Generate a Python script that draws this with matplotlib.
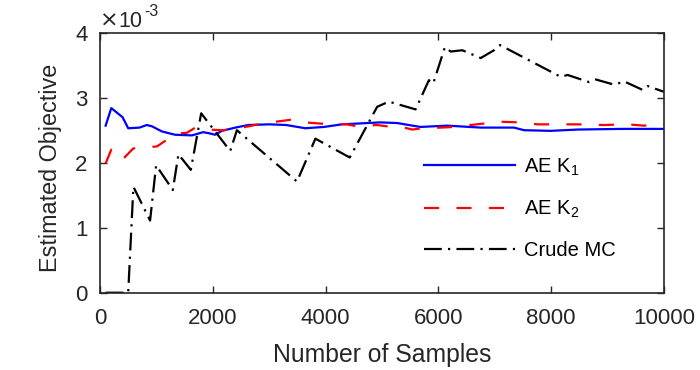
import matplotlib
matplotlib.use("Agg")
import matplotlib.pyplot as plt
import numpy as np

plt.rcParams['font.family'] = ['Liberation Sans', 'DejaVu Sans']
plt.rcParams['mathtext.fontset'] = 'custom'
plt.rcParams['mathtext.rm'] = 'Liberation Sans'
plt.rcParams['mathtext.it'] = 'Liberation Sans:italic'

# Data (values in units of 1e-3)
ae1_n = [100, 200, 400, 500, 700, 830, 920, 1100, 1330, 1630, 1830, 1950, 2040, 2160,
         2400, 2630, 3000, 3300, 3640, 3970, 4290, 4970, 5270, 5680, 6160, 6750, 7340,
         7520, 7990, 8470, 9240, 10000]
ae1_v = [2.57, 2.84, 2.70, 2.53, 2.54, 2.58, 2.56, 2.48, 2.43, 2.42, 2.47, 2.45, 2.43, 2.49,
         2.54, 2.58, 2.59, 2.58, 2.53, 2.55, 2.59, 2.62, 2.61, 2.55, 2.57, 2.54, 2.54,
         2.50, 2.49, 2.51, 2.52, 2.52]

ae2_n = [100, 200, 240, 400, 590, 650, 860, 1010, 1180, 1360, 1540, 1690, 1900, 2190, 2460,
         2750, 3110, 3380, 3640, 3940, 4380, 4560, 4910, 5090, 5390, 5540, 5710, 6040, 6280,
         6570, 7100, 7460, 7760, 8470, 8940, 9350, 9650, 9830, 10000]
ae2_v = [1.99, 2.20, 2.13, 2.05, 2.22, 2.22, 2.24, 2.25, 2.35, 2.45, 2.46, 2.54, 2.51, 2.50, 2.53,
         2.58, 2.63, 2.66, 2.62, 2.60, 2.59, 2.56, 2.58, 2.56, 2.54, 2.51, 2.53, 2.54, 2.55,
         2.58, 2.63, 2.62, 2.59, 2.59, 2.58, 2.59, 2.57, 2.59, 2.59]

mc_n = [100, 200, 300, 400, 500, 592, 888, 995, 1291, 1391, 1610, 1794, 2309, 2427, 3493,
        3819, 4428, 4914, 5121, 5595, 5832, 5909, 6116, 6217, 6424, 6750, 6986, 7092, 8171,
        8290, 8673, 8792, 9118, 9295, 9621, 9710, 10000]
mc_v = [0, 0, 0, 0, 0, 1.63, 1.11, 1.96, 1.58, 2.13, 1.89, 2.76, 2.18, 2.50, 1.71,
        2.37, 2.08, 2.86, 2.94, 2.82, 3.27, 3.22, 3.78, 3.71, 3.73, 3.61, 3.73, 3.81, 3.32,
        3.35, 3.24, 3.28, 3.20, 3.25, 3.12, 3.18, 3.09]

labels = ['AE K$_{1}$', 'AE K$_{2}$', 'Crude MC']
xticks = [0, 2000, 4000, 6000, 8000, 10000]
yticks = [0, 1, 2, 3, 4]

W, H = 700, 370
fig = plt.figure(figsize=(7, 3.7), dpi=100)
ax = fig.add_axes([100/W, 1 - 292.7/H, 564/W, 260/H])

ax.plot(ae1_n, ae1_v, color='#0000ff', lw=1.6, label=labels[0])
ax.plot(ae2_n, ae2_v, color='#ff0000', lw=1.6, dashes=(6.8, 7.8), label=labels[1])
ax.plot(mc_n, mc_v, color='black', lw=1.6, dashes=(8, 2.8, 1, 2.8), label=labels[2])

ax.set_xlim(0, 10000)
ax.set_ylim(0, 4)
ax.set_xticks(xticks)
ax.set_yticks(yticks)
ax.tick_params(direction='in', top=True, right=True, length=5, width=1,
               labelsize=16, colors='#262626')
ax.tick_params(axis='x', pad=11)
ax.tick_params(axis='y', pad=9)
for s in ax.spines.values():
    s.set_color('#262626')
    s.set_linewidth(1.2)

ax.set_xlabel('Number of Samples', fontsize=17.8, color='#262626')
ax.xaxis.set_label_coords(0.5, (292.7 - 343) / 260)
ax.xaxis.label.set_va('top')
ax.set_ylabel('Estimated Objective', fontsize=16.8, color='#262626')
ax.yaxis.set_label_coords((62 - 100) / 564, (292.7 - 167.5) / 260)

fig.text(100/W, 1 - 27/H, '×', fontsize=16, family='DejaVu Sans', color='#262626',
         ha='left', va='baseline')
fig.text(118/W, 1 - 27/H, '10', fontsize=15.5, color='#262626', ha='left', va='baseline')
fig.text(144/W, 1 - 16/H, '-3', fontsize=11.5, color='#262626', ha='left', va='baseline')

leg = ax.legend(loc='upper left', bbox_to_anchor=(0.56, 0.555), frameon=False,
                fontsize=14.5, handlelength=4.5, handletextpad=0.45, labelspacing=1.05,
                borderaxespad=0)

fig.savefig('out.png', dpi=100)
